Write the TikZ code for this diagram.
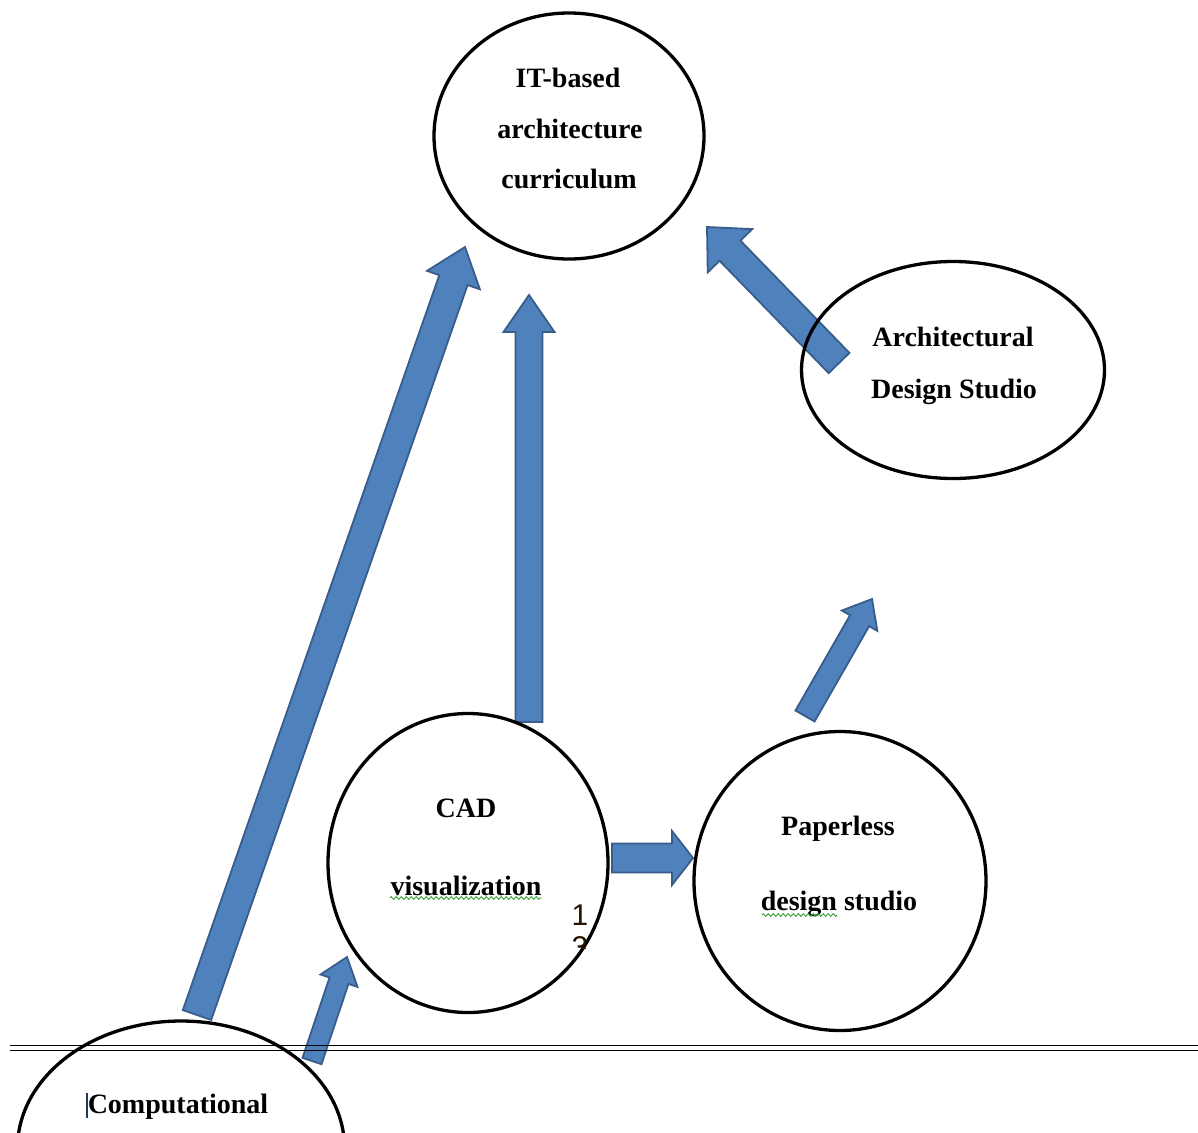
\documentclass[tikz,border=0pt]{standalone}
\usepackage{fontspec}
\setmainfont{Liberation Serif}
\newfontfamily\arialf{Liberation Sans}
\usetikzlibrary{calc,shapes.geometric,decorations.pathmorphing}
\definecolor{arrfill}{HTML}{4F81BD}
\definecolor{arrdraw}{HTML}{385D8A}
\definecolor{spellgreen}{HTML}{3CA03C}
\definecolor{cursorblue}{HTML}{1F3A60}
% #1 tail coordinate, #2 tip coordinate, #3 half shaft width, #4 half head width, #5 head length
\newcommand\blockarrow[5]{%
  \path[blockarr] let \p1=($(#2)-(#1)$), \n1={atan2(\y1,\x1)}, \n2={veclen(\x1,\y1)-#5} in
    ($(#1)+(\n1+90:#3)$) -- ($(#1)+(\n1:\n2)+(\n1+90:#3)$) -- ($(#1)+(\n1:\n2)+(\n1+90:#4)$)
    -- (#2) -- ($(#1)+(\n1:\n2)+(\n1-90:#4)$) -- ($(#1)+(\n1:\n2)+(\n1-90:#3)$)
    -- ($(#1)+(\n1-90:#3)$) -- cycle;}
\begin{document}
\begin{tikzpicture}[x=1pt,y=-1pt,
  blockarr/.style={fill=arrfill, draw=arrdraw, line width=1.8pt, line join=miter},
  bubble/.style={draw=black, line width=3.3pt, ellipse, inner sep=0pt, outer sep=0pt},
  txt/.style={font=\bfseries\fontsize{28}{34}\selectfont, anchor=base, inner sep=0pt},
  numtxt/.style={font=\arialf\fontsize{30}{36}\selectfont, anchor=base, inner sep=0pt, text=black!85!orange},
  spell/.style={spellgreen, line width=0.9pt, decorate, decoration={zigzag, segment length=5pt, amplitude=1.4pt}},
  rule/.style={line width=1.8pt, black}]
\useasboundingbox (0,0) rectangle (1198,1132);
\clip (0,0) rectangle (1198,1132);

% arrow end points
\coordinate (a1s) at (197,1015); \coordinate (a1e) at (465,247);
\coordinate (a2s) at (529,722);  \coordinate (a2e) at (529,295);
\coordinate (a3s) at (839,363);  \coordinate (a3e) at (707,227);
\coordinate (a4s) at (805,716);  \coordinate (a4e) at (872,599);
\coordinate (a5s) at (612,858);  \coordinate (a5e) at (693,858);
\coordinate (a6s) at (312,1061); \coordinate (a6e) at (347,957);

\blockarrow{a1s}{a1e}{15pt}{28pt}{35pt}
\blockarrow{a2s}{a2e}{13.5pt}{25.5pt}{37pt}
\blockarrow{a3s}{a3e}{14.5pt}{31pt}{33pt}
\blockarrow{a4s}{a4e}{11pt}{20.5pt}{25pt}
\blockarrow{a5s}{a5e}{14.5pt}{27pt}{21pt}
\blockarrow{a6s}{a6e}{10pt}{19.5pt}{25pt}

% ellipses
\node[bubble, minimum width=270, minimum height=246] (it)   at (569,136) {};
\node[bubble, minimum width=303, minimum height=217] (ads)  at (953,370) {};
\node[bubble, minimum width=280, minimum height=299] (cad)  at (468,863) {};
\node[bubble, minimum width=292, minimum height=299] (pds)  at (840,881) {};
\node[bubble, minimum width=327, minimum height=254] (comp) at (181,1148) {};

% double rule
\coordinate (r1a) at (10,1045.5); \coordinate (r1b) at (1198,1045.5);
\coordinate (r2a) at (10,1050.5); \coordinate (r2b) at (1198,1050.5);
\draw[rule] (r1a) -- (r1b);
\draw[rule] (r2a) -- (r2b);

% texts
\node[txt] (t1) at (568,87)  {IT-based};
\node[txt] (t2) at (570,138) {architecture};
\node[txt] (t3) at (569,188) {curriculum};
\node[txt] (t4) at (953,346) {Architectural};
\node[txt] (t5) at (954,398) {Design Studio};
\node[txt] (t6) at (466,817) {CAD};
\node[txt] (t7) at (466,895) {visualization};
\node[txt] (t8) at (838,835) {Paperless};
\node[txt] (t9) at (839,910) {design studio};
\node[txt] (t10) at (178,1113) {Computational};

% spell-check underlines and cursor
\coordinate (s1a) at (390,898); \coordinate (s1b) at (542,898);
\coordinate (s2a) at (762,915); \coordinate (s2b) at (837,915);
\draw[spell] (s1a) -- (s1b);
\draw[spell] (s2a) -- (s2b);
\coordinate (cu1) at (87,1093); \coordinate (cu2) at (87,1118);
\draw[cursorblue, line width=1.5pt] (cu1) -- (cu2);

% page number fragments
\node[numtxt] (n1) at (580,925) {1};
\begin{scope}
  \clip (560,928) rectangle (600,948);
  \node[numtxt] (n3) at (580,957) {3};
\end{scope}
\end{tikzpicture}
\end{document}
